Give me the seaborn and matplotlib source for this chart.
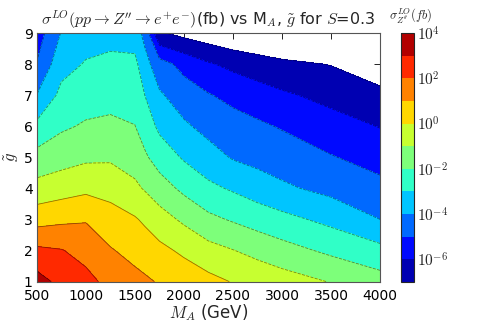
import numpy as np
import pandas as pd
import matplotlib
matplotlib.use("Agg")
import matplotlib.pyplot as plt
import seaborn as sns

sns.set_style("white")
plt.rcParams['font.family'] = ['DejaVu Sans']
plt.rcParams['mathtext.fontset'] = 'cm'

# grid: log10(sigma / fb)
mass = [500, 750, 1000, 1250, 1500, 1600, 1750, 2000, 2250, 2500, 2750, 3000, 3500, 4000]
gtilde = [1, 2, 3, 4, 5, 6, 7, 8, 9]

# one list per g row, values across mass
log_sigma = [
    [3.40, 2.73, 2.30, 1.71, 1.30, 1.15, 0.92, 0.60, 0.28, -0.05, -0.28, -0.55, -1.05, -1.60],   # g=1
    [2.21, 2.05, 1.66, 1.08, 0.68, 0.53, 0.25, -0.18, -0.66, -0.97, -1.31, -1.63, -2.20, -2.71],  # g=2
    [0.61, 0.80, 0.92, 0.41, 0.09, -0.15, -0.58, -1.18, -1.77, -2.10, -2.42, -2.71, -3.27, -4.00],  # g=3
    [-0.66, -0.44, -0.22, -0.34, -0.81, -1.08, -1.54, -2.23, -2.78, -3.12, -3.50, -3.83, -4.29, -4.71],  # g=4
    [-1.67, -1.40, -1.18, -1.14, -1.43, -1.85, -2.44, -3.11, -3.61, -4.08, -4.30, -4.49, -4.94, -5.39],  # g=5
    [-2.77, -2.15, -1.89, -1.80, -1.98, -2.44, -3.21, -3.85, -4.31, -4.62, -4.84, -5.08, -5.60, -6.04],  # g=6
    [-3.98, -2.74, -2.43, -2.33, -2.40, -3.00, -3.87, -4.51, -4.94, -5.26, -5.54, -5.85, -6.30, -6.75],  # g=7
    [-4.95, -3.35, -2.93, -2.79, -2.75, -3.63, -4.60, -5.31, -5.90, -6.25, -6.56, -6.78, -7.04, -7.60],  # g=8
    [-5.50, -3.95, -3.40, -3.30, -3.50, -4.30, -6.90, -7.30, -7.60, -7.90, -8.00, -8.20, -8.50, -8.50],  # g=9
]

levels = np.arange(-7, 5)
cbar_ticks = [-6, -4, -2, 0, 2, 4]

df = pd.DataFrame(log_sigma, index=gtilde, columns=mass)
X, Y = np.meshgrid(df.columns.values, df.index.values)
Z = df.values

fig = plt.figure(figsize=(4.91, 3.27), dpi=100)
ax = fig.add_axes([0.075, 0.139, 0.699, 0.760])
cax = fig.add_axes([0.817, 0.138, 0.026, 0.761])

cf = ax.contourf(X, Y, Z, levels=levels, cmap='jet')
ax.contour(X, Y, Z, levels=levels, colors='k', linewidths=0.6, alpha=0.45)

ax.set_xlim(500, 4000)
ax.set_ylim(1, 9)
ax.set_xticks(np.arange(500, 4001, 500))
ax.set_yticks(gtilde)
ax.tick_params(direction='in', top=True, right=True, length=4, width=0.6,
               labelsize=10, pad=3, colors='k')
ax.tick_params(axis='x', pad=5.5)
for s in ax.spines.values():
    s.set_color('#555555')
    s.set_linewidth(0.8)

ax.set_xlabel(r"$M_A$ (GeV)", fontsize=12, labelpad=-1)
ax.set_ylabel(r"$\tilde{g}$", fontsize=12, labelpad=2)
ax.set_title(r"$\sigma^{LO}(pp\rightarrow Z''\rightarrow e^{+}e^{-})$(fb) vs M$_{A}$, $\tilde{g}$ for $S$=0.3",
             fontsize=11.5, pad=6)

cbar = fig.colorbar(cf, cax=cax, ticks=cbar_ticks)
cbar.set_ticklabels([r"$10^{%d}$" % t for t in cbar_ticks])
cbar.ax.tick_params(length=0, labelsize=11, pad=2)
cbar.outline.set_linewidth(0.8)
fig.text(0.792, 0.94, r"$\sigma^{LO}_{Z''}(fb)$", fontsize=9)

fig.savefig("out.png", dpi=100)
